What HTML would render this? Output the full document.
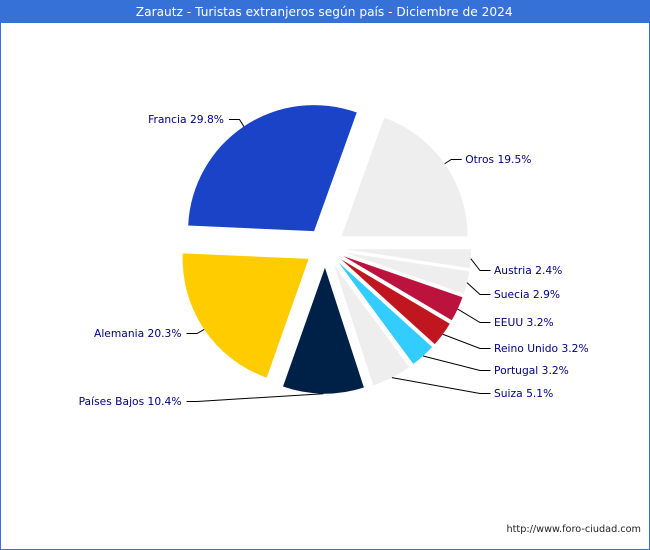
<!DOCTYPE html>
<html lang="es">
<head>
<meta charset="utf-8">
<title>Zarautz - Turistas extranjeros según país - Diciembre de 2024</title>
<style>
  html, body { margin: 0; padding: 0; background: #fff; }
  #chart { display: block; width: 650px; height: 550px; }
  text { font-family: "DejaVu Sans", "Liberation Sans", sans-serif; }
</style>
</head>
<body>
<svg id="chart" xmlns="http://www.w3.org/2000/svg" width="650" height="550" viewBox="0 0 650 550">
  <rect x="0.5" y="0.5" width="649" height="549" fill="#ffffff" stroke="#3671d8" stroke-width="1"/>
  <rect x="0" y="0" width="650" height="23" fill="#3671d8"/>
  <text x="324.2" y="16" text-anchor="middle" font-size="12.2" fill="#ffffff">Zarautz - Turistas extranjeros según país - Diciembre de 2024</text>
  <g id="slices"></g>
  <g id="leaders"></g>
  <g id="labels"></g>
  <text x="641" y="532" text-anchor="end" font-size="9.7" fill="#222222">http://www.foro-ciudad.com</text>
</svg>
<script>
const categories = ["Austria", "Suecia", "EEUU", "Reino Unido", "Portugal", "Suiza", "Países Bajos", "Alemania", "Francia", "Otros"];
const shares = [2.4, 2.9, 3.2, 3.2, 3.2, 5.1, 10.4, 20.3, 29.8, 19.5];
const sliceColors = ["#eeeeee", "#eeeeee", "#bb133e", "#c0161f", "#33ccff", "#eeeeee", "#002147", "#ffcc00", "#1a43c8", "#eeeeee"];

const SVG_NS = "http://www.w3.org/2000/svg";
const pieCenterX = 325.2, pieCenterY = 247.7, pieRadius = 126, explode = 20, labelRadius = 154;
const startAngle = 90;
const total = shares.reduce((a, b) => a + b, 0);

function angleScale(cumulative) {
  return startAngle + (cumulative / total) * 360;
}
function direction(deg) {
  const r = deg * Math.PI / 180;
  return { x: Math.sin(r), y: -Math.cos(r) };
}
function slug(name) {
  return name.toLowerCase().normalize("NFD").replace(/[\u0300-\u036f]/g, "").replace(/\s+/g, "-");
}

const sliceLayer = document.getElementById("slices");
const leaderLayer = document.getElementById("leaders");
const labelLayer = document.getElementById("labels");

let cumulative = 0;
shares.forEach(function (value, i) {
  const a0 = angleScale(cumulative);
  const a1 = angleScale(cumulative + value);
  cumulative += value;
  const mid = (a0 + a1) / 2;
  const m = direction(mid);
  const apexX = pieCenterX + m.x * explode;
  const apexY = pieCenterY + m.y * explode;
  const p0 = direction(a0);
  const p1 = direction(a1);
  const large = (a1 - a0) > 180 ? 1 : 0;

  const path = document.createElementNS(SVG_NS, "path");
  path.setAttribute("d",
    "M" + apexX + " " + apexY +
    "L" + (apexX + p0.x * pieRadius) + " " + (apexY + p0.y * pieRadius) +
    "A" + pieRadius + " " + pieRadius + " 0 " + large + " 1 " +
    (apexX + p1.x * pieRadius) + " " + (apexY + p1.y * pieRadius) + "Z");
  path.setAttribute("fill", sliceColors[i]);
  
  
  sliceLayer.appendChild(path);

  const edgeX = pieCenterX + m.x * (pieRadius + explode);
  const edgeY = pieCenterY + m.y * (pieRadius + explode);

  let elbowX = pieCenterX + m.x * labelRadius;
  let elbowY = pieCenterY + m.y * labelRadius;
  const isRight = m.x > 0;
  if (m.y > 0 && isRight) {
    elbowX = 480;
    elbowY += 8 + 3 * (1 - m.y);
  } else if (m.y > 0) {
    elbowX = 197;
  }
  elbowY = Math.floor(elbowY) + 0.5;
  const sign = isRight ? 1 : -1;
  const endX = elbowX + sign * 10.5;

  const line = document.createElementNS(SVG_NS, "polyline");
  line.setAttribute("points", edgeX + "," + edgeY + " " + elbowX + "," + elbowY + " " + endX + "," + elbowY);
  line.setAttribute("fill", "none");
  line.setAttribute("stroke", "#000000");
  line.setAttribute("stroke-width", "1");
  
  
  leaderLayer.appendChild(line);

  const label = document.createElementNS(SVG_NS, "text");
  label.setAttribute("x", endX + sign * (isRight ? 3.5 : 5));
  label.setAttribute("y", elbowY + 3.5);
  label.setAttribute("text-anchor", isRight ? "start" : "end");
  label.setAttribute("font-size", "10.7");
  label.setAttribute("fill", "#000080");
  label.textContent = categories[i] + " " + value.toFixed(1) + "%";
  
  
  labelLayer.appendChild(label);
});
</script>
</body>
</html>
